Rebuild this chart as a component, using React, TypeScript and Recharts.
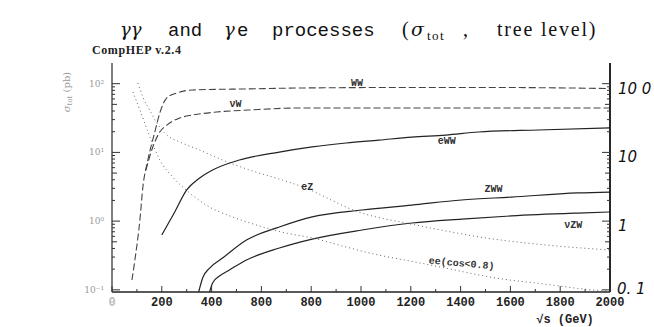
import React from 'react';
import { LineChart, Line, XAxis, YAxis, ReferenceDot } from 'recharts';

// ---- data (sqrt(s) in GeV, sigma_tot in pb) ----
const wwX = [80, 92, 112, 124, 144, 172, 192, 220, 260, 324, 552, 752, 1152, 1552, 2000];
const wwY = [0.139, 0.272, 1.04, 3.13, 7.75, 19.8, 37.5, 62, 73.3, 81, 84, 86.5, 88, 88, 85];

const nuWX = [136, 164, 192, 220, 272, 324, 420, 552, 752, 1152, 2000];
const nuWY = [5.5, 12, 19.8, 25, 31.7, 35, 38.7, 41.4, 44.3, 44.3, 44.3];

const eWWX = [200, 252, 300, 352, 404, 512, 672, 804, 940, 1072, 1204, 1340, 1472, 1712, 2000];
const eWWY = [0.628, 1.36, 2.84, 4.24, 5.55, 7.76, 10.1, 12.0, 13.7, 15.1, 16.7, 17.9, 19.8, 21.2, 22.7];

const zwwX = [348, 364, 392, 444, 540, 672, 804, 1004, 1204, 1404, 1604, 1872, 2000];
const zwwY = [0.093, 0.149, 0.207, 0.29, 0.53, 0.82, 1.15, 1.45, 1.71, 2.03, 2.24, 2.57, 2.65];

const nuZWX = [392, 404, 432, 472, 540, 672, 804, 1004, 1204, 1404, 1604, 1872, 2000];
const nuZWY = [0.093, 0.126, 0.159, 0.195, 0.272, 0.406, 0.548, 0.742, 0.938, 1.07, 1.19, 1.31, 1.36];

const eZX = [104, 124, 152, 180, 220, 272, 352, 444, 552, 684, 760, 992, 1204, 1340, 1472, 1740, 2000];
const eZY = [102, 64, 41, 26.8, 17.9, 14.2, 10.8, 7.75, 5.55, 3.96, 3.2, 1.35, 0.9, 0.72, 0.59, 0.45, 0.38];

const eeX = [84, 112, 152, 192, 244, 312, 392, 484, 592, 700, 804, 940, 1072, 1204, 1340, 1540, 1740, 1940, 2000];
const eeY = [75.7, 41.4, 16.8, 7.75, 4.38, 2.57, 1.6, 1.15, 0.85, 0.67, 0.57, 0.42, 0.32, 0.26, 0.207, 0.149, 0.121, 0.099, 0.096];

// curve labels: text, sqrt(s), sigma
const labelText = ['WW', 'νW', 'eWW', 'eZ', 'ZWW', 'νZW', 'ee(cos<0.8)'];
const labelX = [984, 496, 1344, 784, 1532, 1852, 1404];
const labelY = [102, 49, 14.2, 3.13, 2.93, 0.877, 0.238];

// axes
const xTicks = [0, 100, 200, 300, 400, 500, 600, 700, 800, 900, 1000, 1100, 1200, 1300, 1400, 1500, 1600, 1700, 1800, 1900, 2000];
const xMajor = [0, 200, 400, 600, 800, 1000, 1200, 1400, 1600, 1800, 2000];
const xMajorLabels = ['0', '200', '400', '800', '800', '1000', '1200', '1400', '1600', '1800', '2000'];

const yTicks = [0.1, 0.2, 0.3, 0.4, 0.5, 0.6, 0.7, 0.8, 0.9, 1, 2, 3, 4, 5, 6, 7, 8, 9, 10, 20, 30, 40, 50, 60, 70, 80, 90, 100];
const yDecades = [0.1, 1, 10, 100];
const yLeftLabels = ['10⁻¹', '10⁰', '10¹', '10²'];
const yRightLabels = ['0. 1', '1', '10', '10 0'];

const toPts = (xs: number[], ys: number[]) => xs.map((x, i) => ({ x, y: ys[i] }));

const AX = '#333';

function tickLen(v: number) {
  const d = yDecades.indexOf(v);
  if (d >= 0) return 8;
  const m = Math.round(v / Math.pow(10, Math.floor(Math.log10(v) + 1e-9)));
  return m === 5 ? 5 : 3;
}

function LeftTick(props: any) {
  const { x, y, payload } = props;
  const v = payload.value;
  const d = yDecades.indexOf(v);
  return (
    <g>
      <line x1={x} y1={y} x2={x + tickLen(v)} y2={y} stroke={AX} strokeWidth={1} />
      {d >= 0 && (
        <text x={x - 8} y={y + 3} textAnchor="end" fontSize={9} fill="#999" fontFamily="DejaVu Serif">
          {yLeftLabels[d]}
        </text>
      )}
    </g>
  );
}

function RightTick(props: any) {
  const { x, y, payload } = props;
  const v = payload.value;
  const d = yDecades.indexOf(v);
  return (
    <g>
      <line x1={x} y1={y} x2={x - tickLen(v)} y2={y} stroke={AX} strokeWidth={1} />
      {d >= 0 && (
        <text x={x + (d === 0 ? 7 : 8)} y={y + (d === 0 ? 4 : 10)} textAnchor="start" fontSize={15} fill="#111"
          fontFamily="DejaVu Sans" fontStyle="italic">
          {yRightLabels[d]}
        </text>
      )}
    </g>
  );
}

function BottomTick(props: any) {
  const { x, y, payload } = props;
  const v = payload.value;
  const m = xMajor.indexOf(v);
  return (
    <g>
      <line x1={x} y1={y} x2={x} y2={y - (m >= 0 ? 6 : 3)} stroke={AX} strokeWidth={1} />
      {m >= 0 && (
        <text x={x} y={y + 14} textAnchor="middle" fontSize={12} fontWeight={600}
          fill={m === 0 ? '#bbb' : '#222'} fontFamily="Liberation Mono">
          {xMajorLabels[m]}
        </text>
      )}
    </g>
  );
}

function TopTick(props: any) {
  const { x, y, payload } = props;
  const v = payload.value;
  const m = xMajor.indexOf(v);
  return <line x1={x} y1={y} x2={x} y2={y + (m >= 0 ? 6 : 3)} stroke={AX} strokeWidth={1} />;
}

function CurveLabel(props: any) {
  const { cx, cy, text } = props;
  const rot = text.startsWith('ee') ? 5 : 0;
  return (
    <text x={cx} y={cy} textAnchor="middle" dominantBaseline="central" fontSize={10} fontWeight={700}
      fill="#333" fontFamily="Liberation Mono" transform={rot ? `rotate(${rot} ${cx} ${cy})` : undefined}>
      {text}
    </text>
  );
}

export default function App() {
  const series = [
    { d: toPts(wwX, wwY), dash: '7 3', w: 1.1, c: '#444' },
    { d: toPts(nuWX, nuWY), dash: '7 3', w: 1.1, c: '#444' },
    { d: toPts(eWWX, eWWY), dash: undefined, w: 1.2, c: '#222' },
    { d: toPts(zwwX, zwwY), dash: undefined, w: 1.2, c: '#222' },
    { d: toPts(nuZWX, nuZWY), dash: undefined, w: 1.2, c: '#222' },
    { d: toPts(eZX, eZY), dash: '1 3', w: 1, c: '#666' },
    { d: toPts(eeX, eeY), dash: '1 3', w: 1, c: '#666' },
  ];
  return (
    <div style={{ position: 'absolute', left: 0, top: 0, width: 654, height: 327, background: '#fff' }}>
      <LineChart width={654} height={327} margin={{ top: 63, right: 0, bottom: 15, left: 72 }}>
        <XAxis xAxisId="b" dataKey="x" type="number" domain={[0, 2000]} ticks={xTicks} interval={0}
          tick={<BottomTick />} tickSize={0} tickMargin={0} tickLine={false} height={20}
          axisLine={{ stroke: '#222', strokeWidth: 1.5 }} allowDataOverflow />
        <XAxis xAxisId="t" dataKey="x" orientation="top" type="number" domain={[0, 2000]} ticks={xTicks} interval={0}
          tick={<TopTick />} tickSize={0} tickMargin={0} tickLine={false} height={0}
          axisLine={{ stroke: '#222', strokeWidth: 1.5 }} allowDataOverflow />
        <YAxis yAxisId="l" type="number" scale="log" domain={[0.093, 200]} ticks={yTicks} interval={0}
          tick={<LeftTick />} tickSize={0} tickMargin={0} tickLine={false} width={40}
          axisLine={{ stroke: '#555', strokeWidth: 1.5 }} allowDataOverflow />
        <YAxis yAxisId="r" orientation="right" type="number" scale="log" domain={[0.093, 200]} ticks={yTicks} interval={0}
          tick={<RightTick />} tickSize={0} tickMargin={0} tickLine={false} width={44}
          axisLine={{ stroke: '#111', strokeWidth: 1.8 }} allowDataOverflow />
        {series.map((s, i) => (
          <Line key={i} xAxisId="b" yAxisId="l" data={s.d} dataKey="y" type="monotone" stroke={s.c}
            strokeWidth={s.w} strokeDasharray={s.dash} dot={false} isAnimationActive={false} />
        ))}
        {labelText.map((t, i) => (
          <ReferenceDot key={t} xAxisId="b" yAxisId="l" x={labelX[i]} y={labelY[i]} r={0}
            shape={(p: any) => <CurveLabel {...p} text={t} />} />
        ))}
      </LineChart>
      <svg width={654} height={327} style={{ position: 'absolute', left: 0, top: 0, pointerEvents: 'none' }}>
        <g fill="#111">
          <text x={120} y={36} fontSize={18} fontFamily="DejaVu Serif" fontStyle="italic">γγ</text>
          <text x={168} y={36} fontSize={19} fontFamily="Liberation Mono">and</text>
          <text x={224} y={36} fontSize={18} fontFamily="DejaVu Serif" fontStyle="italic">γ</text>
          <text x={237} y={36} fontSize={19} fontFamily="Liberation Mono">e</text>
          <text x={272} y={36} fontSize={19} fontFamily="Liberation Mono">processes</text>
          <text x={402} y={36} fontSize={20} fontFamily="Liberation Serif">(</text>
          <text x={411} y={36} fontSize={19} fontFamily="DejaVu Serif" fontStyle="italic">σ</text>
          <text x={427} y={40} fontSize={13} fontFamily="Liberation Serif" letterSpacing={1.5}>tot</text>
          <text x={463} y={36} fontSize={20} fontFamily="Liberation Serif">,</text>
          <text x={497} y={36} fontSize={20} fontFamily="Liberation Serif" letterSpacing={1.8}>tree level)</text>
        </g>
        <text x={92} y={54} fontSize={12} fontWeight={700} fill="#222" fontFamily="Liberation Serif" letterSpacing={0.6}>CompHEP v.2.4</text>
        <text transform="translate(70 92) rotate(-90)" textAnchor="middle" fontSize={10} fill="#999" fontFamily="DejaVu Serif">
          <tspan fontStyle="italic">σ</tspan><tspan fontSize={7} dy={2}>tot</tspan><tspan dy={-2}>{' (pb)'}</tspan>
        </text>
        <text x={565} y={323} textAnchor="middle" fontSize={12} fontWeight={700} fill="#222" fontFamily="Liberation Mono">√s (GeV)</text>
      </svg>
    </div>
  );
}
